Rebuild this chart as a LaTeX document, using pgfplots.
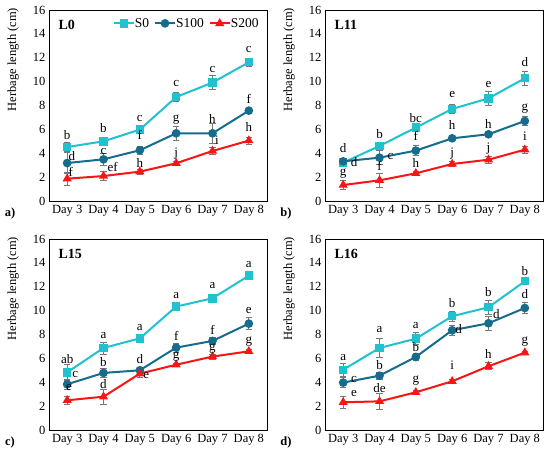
\documentclass[border=0pt]{standalone}
\usepackage{pgfplots}
\pgfplotsset{compat=1.18}
\usepackage{fontspec}
\setmainfont{Liberation Serif}
\definecolor{cS0}{RGB}{32,194,208}
\definecolor{cS100}{RGB}{22,108,140}
\definecolor{cS200}{RGB}{250,20,20}
\definecolor{ebar}{RGB}{120,120,120}
\pgfplotsset{
  panel/.style={
    scale only axis, width=218pt, height=191pt,
    anchor=south west,
    xmin=-0.5, xmax=5.5, ymin=0, ymax=16,
    xtick={0,1,2,3,4,5},
    xticklabels={Day 3,Day 4,Day 5,Day 6,Day 7,Day 8},
    ytick={0,2,...,16},
    major tick length=0pt,
    axis line style={black, line width=0.8pt},
    /pgf/number format/assume math mode=true,
    tick label style={font=\fontsize{12.5}{14}\selectfont},
    xticklabel style={yshift=-1pt},
    ylabel={Herbage length (cm)},
    ylabel style={at={(axis description cs:-0.165,0.74)}, anchor=center, font=\fontsize{12.5}{14}\selectfont},
    clip=false,
  },
  ser/.style={line width=2pt,
    error bars/y dir=both, error bars/y explicit,
    error bars/error bar style={ebar, line width=0.7pt},
    error bars/error mark options={ebar, rotate=90, mark size=3.2pt, line width=0.7pt}},
  s0/.style={ser, color=cS0, mark=square*, mark size=3.2pt, mark options={solid, fill=cS0}},
  s100/.style={ser, color=cS100, mark=*, mark size=3.3pt, mark options={solid, fill=cS100}},
  s200/.style={ser, color=cS200, mark=triangle*, mark size=3.3pt, mark options={solid, fill=cS200}},
  let/.style={forget plot, draw=none, mark=none, nodes near coords, point meta=explicit symbolic,
    nodes near coords align={center},
    every node near coord/.append style={font=\fontsize{13}{14}\selectfont, inner sep=0pt, text=black}},
}
\begin{document}
\begin{tikzpicture}
\useasboundingbox (0,0) rectangle (550pt,458pt);
% ---------------- a) L0
\begin{axis}[panel, at={(49pt,257pt)},
  legend style={draw=none, fill=none, legend columns=3, at={(axis description cs:0.985,0.93)}, anchor=east,
    font=\fontsize{13.5}{14}\selectfont, /tikz/every even column/.append style={column sep=3pt},
    /tikz/every odd column/.append style={column sep=-2pt}},
  legend image code/.code={\draw[mark repeat=2,mark phase=2,#1] plot coordinates {(0pt,0pt) (10pt,0pt) (20pt,0pt)};},
  ]
\addplot[s0] coordinates {(0,4.52) +- (0,0.4) (1,5.0) +- (0,0.3) (2,5.98) +- (0,0.3) (3,8.71) +- (0,0.35) (4,9.92) +- (0,0.6) (5,11.62) +- (0,0.35)};
\addlegendentry{S0}
\addplot[s100] coordinates {(0,3.18) +- (0,0.9) (1,3.49) +- (0,0.5) (2,4.25) +- (0,0.35) (3,5.67) +- (0,0.62) (4,5.67) +- (0,0.8) (5,7.57) +- (0,0.15)};
\addlegendentry{S100}
\addplot[s200] coordinates {(0,1.87) +- (0,0.55) (1,2.09) +- (0,0.4) (2,2.46) +- (0,0.2) (3,3.16) +- (0,0.15) (4,4.19) +- (0,0.3) (5,5.06) +- (0,0.3)};
\addlegendentry{S200}
\addplot[let] coordinates {(0,5.53) [b] (1,6.15) [b] (2,6.93) [c] (3,9.86) [c] (4,11.03) [c] (5,12.7) [c]};
\addplot[let] coordinates {(0.13,3.77) [d] (1,4.13) [c] (2,5.53) [f] (3,6.79) [g] (4,6.87) [h] (5,8.52) [f]};
\addplot[let] coordinates {(0.1,2.46) [f] (1.25,2.88) [ef] (2,3.21) [h] (3,3.94) [j] (4.12,5.06) [i] (5,6.17) [h]};
\node[anchor=west, font=\bfseries\fontsize{14}{16}\selectfont] at (axis description cs:0.028,0.92) {L0};
\node[font=\bfseries\fontsize{12.5}{14}\selectfont] at (axis description cs:-0.179,-0.063) {a)};
\end{axis}
% ---------------- b) L11
\begin{axis}[panel, at={(325pt,257pt)}]
\addplot[s0] coordinates {(0,3.21) +- (0,0.15) (1,4.61) +- (0,0.3) (2,6.15) +- (0,0.3) (3,7.71) +- (0,0.35) (4,8.6) +- (0,0.6) (5,10.28) +- (0,0.6)};
\addplot[s100] coordinates {(0,3.32) +- (0,0.2) (1,3.63) +- (0,0.6) (2,4.22) +- (0,0.4) (3,5.25) +- (0,0.2) (4,5.59) +- (0,0.2) (5,6.70) +- (0,0.35)};
\addplot[s200] coordinates {(0,1.34) +- (0,0.4) (1,1.73) +- (0,0.6) (2,2.32) +- (0,0.2) (3,3.10) +- (0,0.2) (4,3.46) +- (0,0.3) (5,4.30) +- (0,0.3)};
\addplot[let] coordinates {(0,4.41) [d] (1,5.61) [b] (2,6.93) [bc] (3,8.94) [e] (4,9.8) [e] (5,11.67) [d]};
\addplot[let] coordinates {(0.3,3.3) [d] (1.3,3.71) [c] (2,5.45) [f] (3,6.37) [h] (4,6.45) [h] (5,7.77) [g]};
\addplot[let] coordinates {(0,2.26) [g] (1,2.93) [f] (2,3.16) [h] (3,3.94) [j] (4,4.39) [j] (5,5.39) [i]};
\node[anchor=west, font=\bfseries\fontsize{14}{16}\selectfont] at (axis description cs:0.028,0.92) {L11};
\node[font=\bfseries\fontsize{12.5}{14}\selectfont] at (axis description cs:-0.179,-0.063) {b)};
\end{axis}
% ---------------- c) L15
\begin{axis}[panel, at={(49pt,28pt)}]
\addplot[s0] coordinates {(0,4.83) +- (0,0.7) (1,6.87) +- (0,0.5) (2,7.68) +- (0,0.2) (3,10.34) +- (0,0.3) (4,11.03) +- (0,0.2) (5,12.93) +- (0,0.3)};
\addplot[s100] coordinates {(0,3.83) +- (0,0.4) (1,4.78) +- (0,0.4) (2,5.0) +- (0,0.25) (3,6.9) +- (0,0.4) (4,7.46) +- (0,0.3) (5,8.91) +- (0,0.5)};
\addplot[s200] coordinates {(0,2.49) +- (0,0.3) (1,2.79) +- (0,0.6) (2,4.72) +- (0,0.3) (3,5.47) +- (0,0.15) (4,6.15) +- (0,0.2) (5,6.59) +- (0,0.2)};
\addplot[let] coordinates {(0,5.95) [ab] (1,7.9) [a] (2,8.6) [a] (3,11.25) [a] (4,12.14) [a] (5,13.9) [a]};
\addplot[let] coordinates {(0.22,4.64) [c] (1,5.67) [b] (2,5.95) [d] (3,7.85) [f] (4,8.41) [f] (5,10.0) [e]};
\addplot[let] coordinates {(0.05,3.58) [e] (1,3.85) [d] (2.18,4.55) [e] (3,6.15) [g] (4,6.79) [g] (5,7.43) [g]};
\node[anchor=west, font=\bfseries\fontsize{14}{16}\selectfont] at (axis description cs:0.028,0.92) {L15};
\node[font=\bfseries\fontsize{12.5}{14}\selectfont] at (axis description cs:-0.179,-0.063) {c)};
\end{axis}
% ---------------- d) L16
\begin{axis}[panel, at={(325pt,28pt)}]
\addplot[s0] coordinates {(0,5.05) +- (0,0.55) (1,6.87) +- (0,0.8) (2,7.65) +- (0,0.5) (3,9.53) +- (0,0.4) (4,10.28) +- (0,0.6) (5,12.46) +- (0,0.2)};
\addplot[s100] coordinates {(0,3.97) +- (0,0.4) (1,4.55) +- (0,0.3) (2,6.12) +- (0,0.3) (3,8.35) +- (0,0.4) (4,8.94) +- (0,0.6) (5,10.22) +- (0,0.45)};
\addplot[s200] coordinates {(0,2.32) +- (0,0.5) (1,2.40) +- (0,0.7) (2,3.16) +- (0,0.2) (3,4.08) +- (0,0.15) (4,5.34) +- (0,0.3) (5,6.48) +- (0,0.15)};
\addplot[let] coordinates {(0,6.09) [a] (1,8.41) [a] (2,8.74) [a] (3,10.64) [b] (4,11.54) [b] (5,13.35) [b]};
\addplot[let] coordinates {(0.3,4.25) [c] (1,5.47) [b] (2,6.93) [b] (3.18,8.46) [d] (4.22,9.72) [d] (5,11.39) [d]};
\addplot[let] coordinates {(0.3,3.05) [e] (1,3.49) [de] (2,4.13) [g] (3,5.39) [i] (4,6.37) [h] (5,7.43) [g]};
\node[anchor=west, font=\bfseries\fontsize{14}{16}\selectfont] at (axis description cs:0.028,0.92) {L16};
\node[font=\bfseries\fontsize{12.5}{14}\selectfont] at (axis description cs:-0.179,-0.063) {d)};
\end{axis}
\end{tikzpicture}
\end{document}
